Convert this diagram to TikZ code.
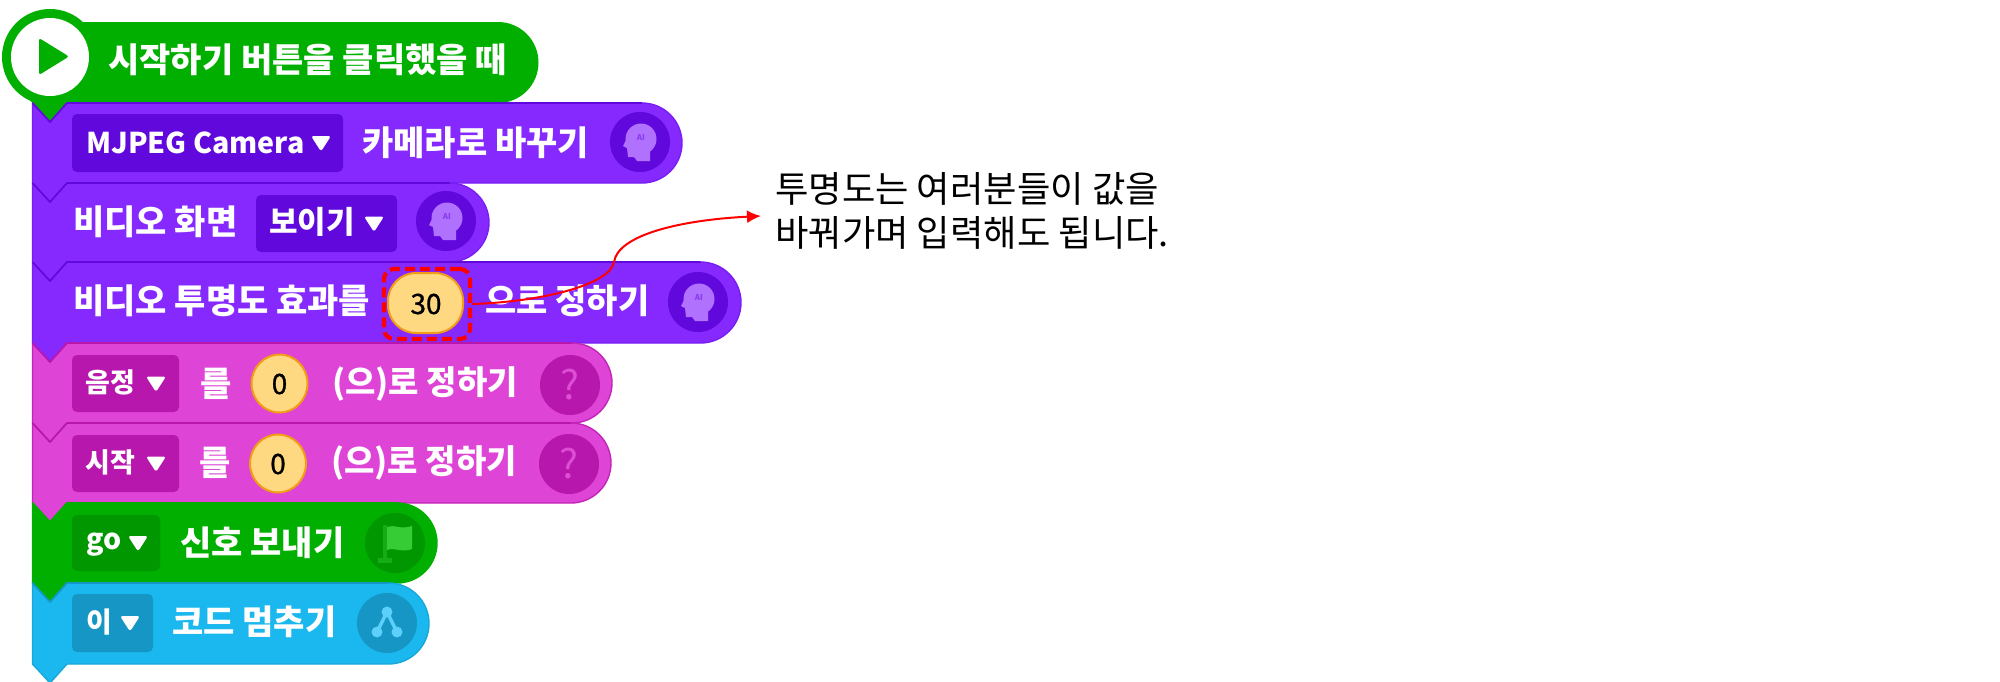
\documentclass[tikz,border=0pt]{standalone}
\usepackage{fontspec}
\setmainfont{Noto Sans CJK KR}
\newfontfamily\valfont[FakeBold=1]{Noto Sans CJK KR}
\usetikzlibrary{arrows.meta}
\definecolor{purp}{HTML}{8529FF}\definecolor{purpD}{HTML}{6108DC}\definecolor{purpL}{HTML}{B071FF}
\definecolor{pink}{HTML}{DE44D6}\definecolor{pinkD}{HTML}{B817AD}\definecolor{pinkL}{HTML}{DC4FD4}
\definecolor{grn}{HTML}{00AF00}\definecolor{grnD}{HTML}{009700}\definecolor{grnL}{HTML}{36CC36}
\definecolor{blu}{HTML}{1AB8EE}\definecolor{bluD}{HTML}{1596C4}\definecolor{bluL}{HTML}{5CCFFA}
\definecolor{valF}{HTML}{FFD982}\definecolor{valB}{HTML}{F29B14}
\newcommand{\blk}[7]{% top bottom right fill border name rim-mix
  \pgfmathsetmacro{\rr}{(#2-#1)/2}
  \path[fill=#4,draw=#5!#7!#4,line width=1.4pt,line join=round,name=#6]
   (32.5,#1) -- (50,#1+19) -- (67,#1) -- ({#3-\rr},#1)
   arc[start angle=90,end angle=-90,x radius=\rr,y radius=-\rr]
   -- (67,#2) -- (50,#2+19) -- (32.5,#2) -- cycle;
  \draw[#5,line width=1.6pt,line join=round] (32.5,#1) -- (50,#1+19) -- (67,#1) -- ({#3-\rr},#1);
}
\newcommand{\ddbox}[6]{% x0 y0 x1 y1 colour tri-x
  \fill[#5,rounded corners=5pt] (#1,#2) rectangle (#3,#4);
  \fill[white,rounded corners=2.6pt,line join=round]
   ({#6-10},{(#2+#4)/2-7}) -- ({#6+10},{(#2+#4)/2-7}) -- (#6,{(#2+#4)/2+8.5}) -- cycle;
}
\newcommand{\headicon}[2]{%
  \fill[purpD] (#1,#2) circle[radius=30];
  \begin{scope}[shift={(#1,#2)}]
   \fill[purpL] (1,-3) ellipse[x radius=15.5,y radius=15.5];
   \fill[purpL] (-14,-2) -- (-17,4) -- (-13,6) -- (-12,15) -- (-6,15) -- (-3,19) -- (10,19) -- (10,6) -- cycle;
   \node[font=\fontsize{8}{8}\selectfont\bfseries,text=purpD!50!purpL,inner sep=0] at (1,-4) {AI};
  \end{scope}
}
\newcommand{\qicon}[3]{%
  \fill[pinkD] (#1,#2) circle[radius=#3];
  \node[font=\fontsize{40}{40}\selectfont,text=pinkL,inner sep=0] at (#1,#2) {?};
}
\tikzset{
 x=1pt,y=-1pt,
 wlabel/.style={anchor=west,inner sep=0,text=white,font=\fontsize{34}{34}\selectfont\bfseries},
 plabel/.style={anchor=west,inner sep=0,text=white,font=\fontsize{33}{33}\selectfont\bfseries},
 dlabel/.style={anchor=west,inner sep=0,text=white,font=\fontsize{31}{31}\selectfont\bfseries},
 slabel/.style={anchor=west,inner sep=0,text=white,font=\fontsize{27}{27}\selectfont\bfseries},
 valtxt/.style={inner sep=0,text=black,font=\valfont\fontsize{28}{28}\selectfont},
 valpill/.style={fill=valF,draw=valB,line width=2pt},
 note/.style={anchor=west,inner sep=0,text=black,font=\fontsize{36.3}{36.3}\selectfont},
}
\begin{document}
\begin{tikzpicture}
\useasboundingbox (0,0) rectangle (2000,681);
% hat
\fill[grn] (50,57) circle[radius=48];
\fill[grn] (70,22) -- (498,22) arc[start angle=90,end angle=-90,x radius=40.5,y radius=-40.5] -- (67,103) -- (50,122) -- (32.5,103) -- (20,90) -- cycle;
\fill[white] (50,57) circle[radius=39];
\fill[grn,rounded corners=2.5pt,line join=round] (39,38) -- (69,56.5) -- (39,75) -- cycle;
% stack
\blk{103}{183}{682}{purp}{purpD}{b1}{35}
\blk{183}{262}{489}{purp}{purpD}{b2}{35}
\blk{262}{343}{741}{purp}{purpD}{b3}{35}
\blk{343}{423}{612}{pink}{pinkD}{b4}{70}
\blk{423}{503}{611}{pink}{pinkD}{b5}{70}
\blk{503}{583}{437}{grn}{grn}{b6}{100}
\blk{583}{664}{429}{blu}{bluD}{b7}{50}
% dropdowns
\ddbox{72}{114}{343}{172}{purpD}{321}
\ddbox{256}{195}{397}{252}{purpD}{374}
\ddbox{72}{355}{179}{412}{pinkD}{156}
\ddbox{72}{435}{179}{492}{pinkD}{156}
\ddbox{72}{515}{160}{571}{grnD}{138}
\ddbox{72}{594}{153}{652}{bluD}{130}
% value fields
\draw[valpill,rounded corners=28pt] (388,273) rectangle (463,333);
\draw[valpill] (279.5,383.5) ellipse[x radius=28,y radius=29];
\draw[valpill] (278,463.5) ellipse[x radius=28,y radius=29];
% icons
\headicon{640}{142}
\headicon{446}{221}
\headicon{698}{302}
\qicon{570}{385}{30}
\qicon{569}{464}{30}
\fill[grnD] (395,543) circle[radius=30];
\fill[grnL] (387,527) .. controls (394,524) and (400,530) .. (412,526) -- (412,549) .. controls (402,553) and (394,547) .. (387,550) -- cycle;
\fill[grnD!60!grnL] (383,525) rectangle (387,562);
\fill[grnD!60!grnL] (378,558) rectangle (392,563);
\fill[bluD] (387,623) circle[radius=30];
\draw[bluL,line width=3.5pt,line join=round] (377,632) -- (387,612) -- (397,632);
\fill[bluL] (387,612) circle[radius=5.5];
\fill[bluL] (377,632) circle[radius=5.5];
\fill[bluL] (397,632) circle[radius=5.5];
% labels
\node[wlabel] (t0) at (108,60) {시작하기 버튼을 클릭했을 때};
\node[dlabel,font=\fontsize{28.6}{28.6}\selectfont\bfseries] (t1a) at (86,143) {MJPEG Camera};
\node[wlabel] (t1b) at (362,143) {카메라로 바꾸기};
\node[wlabel] (t2a) at (73,222) {비디오 화면};
\node[dlabel] (t2b) at (269,222) {보이기};
\node[wlabel] (t3a) at (73,301) {비디오 투명도 효과를};
\node[valtxt] (v3) at (426,304) {30};
\node[wlabel] (t3b) at (485,301) {으로 정하기};
\node[slabel] (t4a) at (85,382) {음정};
\node[wlabel] (t4b) at (200,384) {를};
\node[valtxt] (v4) at (279.5,384) {0};
\node[plabel] (t4c) at (332,384) {(으)로 정하기};
\node[slabel] (t5a) at (85,462) {시작};
\node[wlabel] (t5b) at (199,463) {를};
\node[valtxt] (v5) at (278,464) {0};
\node[plabel] (t5c) at (331,463) {(으)로 정하기};
\node[dlabel,font=\fontsize{28.5}{28.5}\selectfont\bfseries] (t6a) at (86,545) {go};
\node[wlabel] (t6b) at (180,543) {신호 보내기};
\node[dlabel,font=\fontsize{28}{28}\selectfont\bfseries] (t7a) at (86,622) {이};
\node[wlabel] (t7b) at (172,622) {코드 멈추기};
% annotation
\node[draw=red,dash pattern=on 10pt off 5pt,line width=4.2pt,rounded corners=10pt,minimum width=86pt,minimum height=70pt,inner sep=0,anchor=center] (hl) at (427,304) {};
\node[note] (n1) at (775,189) {투명도는 여러분들이 값을};
\node[note] (n2) at (775,233) {바꿔가며 입력해도 됩니다.};
\coordinate (tip) at (761,216);
\draw[red,line width=2pt,-{Latex[length=14pt,width=13pt]}] (hl.east) .. controls (540,302) and (610,285) .. (614,262) .. controls (618,235) and (680,220) .. (tip);
\end{tikzpicture}
\end{document}
